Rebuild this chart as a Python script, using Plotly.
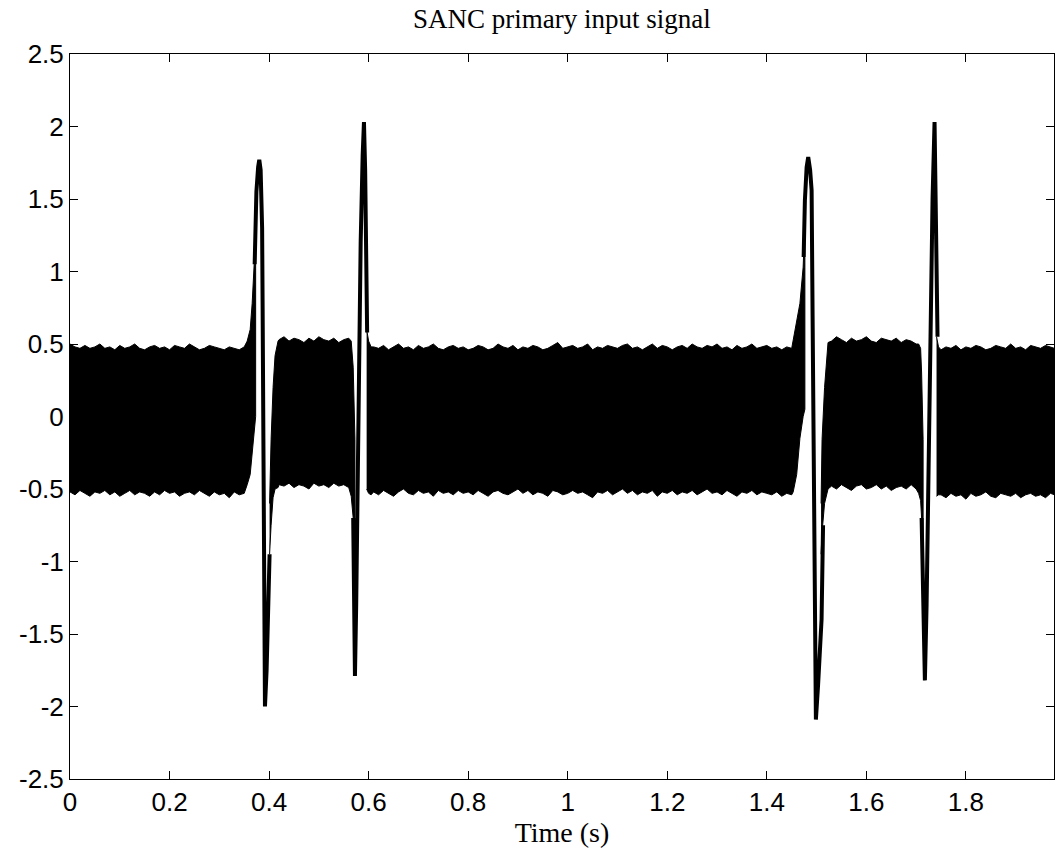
import plotly.graph_objects as go

# ---- envelope of the dense oscillation, per segment ----
tA = [0.00,0.01,0.02,0.03,0.04,0.05,0.06,0.07,0.08,0.09,0.10,0.11,0.12,0.13,0.14,0.15,0.16,0.17,
      0.18,0.19,0.20,0.21,0.22,0.23,0.24,0.25,0.26,0.27,0.28,0.29,0.30,0.31,0.32,0.33,0.34,0.35,
      0.356,0.362,0.366,0.370,0.373]
upA = [0.50,0.48,0.47,0.49,0.47,0.48,0.50,0.47,0.48,0.46,0.49,0.47,0.48,0.50,0.47,0.46,0.48,0.49,
       0.47,0.48,0.46,0.49,0.48,0.47,0.50,0.48,0.46,0.47,0.49,0.48,0.47,0.46,0.48,0.47,0.46,0.48,
       0.52,0.60,0.78,1.05,1.30]
loA = [-0.52,-0.54,-0.51,-0.53,-0.55,-0.52,-0.53,-0.51,-0.54,-0.52,-0.55,-0.53,-0.51,-0.54,-0.52,-0.53,-0.55,-0.52,
       -0.54,-0.51,-0.53,-0.52,-0.55,-0.53,-0.52,-0.54,-0.51,-0.53,-0.55,-0.52,-0.54,-0.53,-0.56,-0.52,-0.54,-0.53,
       -0.47,-0.40,-0.27,-0.10,0.00]

tB = [0.401,0.404,0.408,0.412,0.418,0.42,0.43,0.44,0.45,0.46,0.47,0.48,0.49,0.50,0.51,0.52,0.53,0.54,
      0.55,0.56,0.565,0.569,0.5725]
upB = [-0.60,-0.16,0.20,0.42,0.52,0.53,0.55,0.52,0.54,0.53,0.51,0.54,0.52,0.55,0.53,0.52,0.54,0.51,
       0.53,0.54,0.52,0.34,-0.16]
loB = [-0.95,-0.75,-0.56,-0.50,-0.49,-0.47,-0.48,-0.46,-0.49,-0.47,-0.48,-0.50,-0.46,-0.48,-0.47,-0.49,-0.46,-0.48,
       -0.47,-0.49,-0.55,-0.70,-0.90]

tC = [0.596,0.600,0.605,
      0.61,0.62,0.63,0.64,0.65,0.66,0.67,0.68,0.69,0.70,0.71,0.72,0.73,0.74,0.75,0.76,0.77,0.78,0.79,0.80,
      0.81,0.82,0.83,0.84,0.85,0.86,0.87,0.88,0.89,0.90,0.91,0.92,0.93,0.94,0.95,0.96,0.97,0.98,0.99,1.00,
      1.01,1.02,1.03,1.04,1.05,1.06,1.07,1.08,1.09,1.10,1.11,1.12,1.13,1.14,1.15,1.16,1.17,1.18,1.19,1.20,
      1.21,1.22,1.23,1.24,1.25,1.26,1.27,1.28,1.29,1.30,1.31,1.32,1.33,1.34,1.35,1.36,1.37,1.38,1.39,1.40,
      1.41,1.42,1.43,1.44,
      1.450,1.453,1.460,1.4665,1.473,1.4765]
upC = [0.60,0.52,0.48,
       0.48,0.47,0.49,0.46,0.48,0.50,0.47,0.48,0.46,0.49,0.47,0.48,0.50,0.47,0.46,0.48,0.49,0.47,0.48,0.46,
       0.47,0.49,0.48,0.46,0.47,0.50,0.48,0.47,0.49,0.46,0.48,0.47,0.49,0.48,0.46,0.47,0.49,0.51,0.47,0.48,
       0.49,0.47,0.48,0.50,0.46,0.48,0.47,0.49,0.48,0.47,0.49,0.50,0.47,0.48,0.46,0.48,0.50,0.47,0.49,0.48,
       0.46,0.48,0.49,0.47,0.50,0.48,0.47,0.49,0.48,0.50,0.47,0.48,0.46,0.49,0.47,0.48,0.50,0.47,0.48,0.49,
       0.47,0.48,0.46,0.48,
       0.47,0.53,0.65,0.78,1.03,1.35]
loC = [-0.50,-0.53,-0.54,
       -0.52,-0.54,-0.51,-0.53,-0.55,-0.52,-0.50,-0.53,-0.54,-0.51,-0.53,-0.52,-0.55,-0.51,-0.53,-0.52,-0.54,-0.51,-0.53,-0.52,
       -0.54,-0.51,-0.53,-0.55,-0.52,-0.51,-0.53,-0.54,-0.52,-0.50,-0.53,-0.51,-0.54,-0.52,-0.53,-0.55,-0.51,-0.52,-0.54,-0.53,
       -0.51,-0.53,-0.52,-0.54,-0.56,-0.52,-0.53,-0.51,-0.54,-0.52,-0.50,-0.53,-0.51,-0.54,-0.52,-0.53,-0.51,-0.55,-0.52,-0.53,
       -0.51,-0.54,-0.52,-0.53,-0.51,-0.54,-0.52,-0.50,-0.53,-0.52,-0.54,-0.51,-0.53,-0.55,-0.52,-0.53,-0.51,-0.54,-0.52,-0.53,
       -0.54,-0.52,-0.55,-0.53,
       -0.54,-0.52,-0.40,-0.15,0.00,0.05]

tD = [1.509,1.511,1.516,1.520,1.523,
      1.53,1.54,1.55,1.56,1.57,1.58,1.59,1.60,1.61,1.62,1.63,1.64,1.65,1.66,1.67,1.68,1.69,1.70,
      1.705,1.709,1.711,1.714]
upD = [-0.60,-0.16,0.20,0.42,0.51,
       0.52,0.55,0.53,0.51,0.54,0.52,0.53,0.55,0.52,0.51,0.54,0.53,0.52,0.54,0.51,0.53,0.52,0.50,
       0.50,0.47,0.30,-0.16]
loD = [-0.95,-0.80,-0.60,-0.54,-0.50,
       -0.48,-0.50,-0.47,-0.49,-0.51,-0.48,-0.47,-0.50,-0.49,-0.47,-0.50,-0.48,-0.51,-0.49,-0.48,-0.50,-0.47,-0.50,
       -0.53,-0.58,-0.70,-0.90]

tE = [1.741,1.745,
      1.75,1.76,1.77,1.78,1.79,1.80,1.81,1.82,1.83,1.84,1.85,1.86,1.87,1.88,1.89,1.90,1.91,1.92,1.93,1.94,1.95,1.96,1.97,
      1.978]
upE = [0.55,0.48,
       0.46,0.48,0.47,0.49,0.46,0.48,0.47,0.49,0.48,0.46,0.47,0.49,0.48,0.47,0.50,0.47,0.48,0.46,0.49,0.48,0.47,0.49,0.48,
       0.47]
loE = [-0.55,-0.54,
       -0.54,-0.56,-0.53,-0.55,-0.54,-0.57,-0.53,-0.55,-0.54,-0.52,-0.55,-0.56,-0.53,-0.54,-0.55,-0.53,-0.56,-0.54,-0.53,-0.55,-0.54,-0.56,-0.53,
       -0.54]

# ---- the four biphasic spikes ----
s1_t = [0.371,0.3745,0.378,0.3803,0.383,0.386,0.387,0.389,0.3917,0.395,0.398,0.401]
s1_v = [1.05,1.55,1.72,1.77,1.70,1.30,0.76,-0.40,-2.00,-1.75,-1.45,-0.95]
s2_t = [0.569,0.5725,0.575,0.578,0.581,0.584,0.588,0.5906,0.593,0.595,0.597]
s2_v = [-0.70,-1.79,-1.30,-0.30,0.50,1.20,1.80,2.03,1.70,1.00,0.58]
s3_t = [1.474,1.4765,1.480,1.4832,1.487,1.490,1.492,1.495,1.4986,1.503,1.507,1.510,1.513]
s3_v = [1.10,1.49,1.72,1.79,1.70,1.56,0.69,-0.80,-2.09,-1.85,-1.65,-1.40,-0.75]
s4_t = [1.711,1.7176,1.721,1.725,1.729,1.733,1.737,1.739,1.741,1.743]
s4_v = [-0.70,-1.82,-1.30,-0.20,0.80,1.50,2.03,1.60,0.90,0.55]

x_ticks = [0, 0.2, 0.4, 0.6, 0.8, 1, 1.2, 1.4, 1.6, 1.8]
x_labels = ["0", "0.2", "0.4", "0.6", "0.8", "1", "1.2", "1.4", "1.6", "1.8"]
y_ticks = [-2.5, -2, -1.5, -1, -0.5, 0, 0.5, 1, 1.5, 2, 2.5]
y_labels = ["-2.5", "-2", "-1.5", "-1", "-0.5", "0", "0.5", "1", "1.5", "2", "2.5"]

fig = go.Figure()
for t, up, lo in [(tA, upA, loA), (tB, upB, loB), (tC, upC, loC), (tD, upD, loD), (tE, upE, loE)]:
    fig.add_trace(go.Scatter(x=t + t[::-1], y=up + lo[::-1], mode="lines", fill="toself",
                             fillcolor="black", line=dict(color="black", width=1),
                             hoverinfo="skip", showlegend=False))
for st, sv in [(s1_t, s1_v), (s2_t, s2_v), (s3_t, s3_v), (s4_t, s4_v)]:
    fig.add_trace(go.Scatter(x=st, y=sv, mode="lines", line=dict(color="black", width=4),
                             showlegend=False))

axis_common = dict(showline=True, linecolor="black", linewidth=1, mirror="ticks",
                   ticks="inside", ticklen=8, tickcolor="black", showgrid=False, zeroline=False,
                   tickfont=dict(family="Liberation Sans, Arial, sans-serif", size=26, color="black"))
fig.update_xaxes(range=[0, 1.977], tickvals=x_ticks, ticktext=x_labels,
                 title=dict(text="Time (s)", font=dict(family="Liberation Serif, Times New Roman, serif",
                                                        size=28, color="black"), standoff=6),
                 **axis_common)
fig.update_yaxes(range=[-2.5, 2.5], tickvals=y_ticks, ticktext=y_labels, **axis_common)
fig.update_layout(
    width=1056, height=862,
    margin=dict(l=70, r=2, t=54, b=83),
    paper_bgcolor="white", plot_bgcolor="white",
    title=dict(text="SANC primary input signal", x=0.532, xanchor="center", y=0.99, yanchor="top",
               font=dict(family="Liberation Serif, Times New Roman, serif", size=27, color="black")),
)
fig.write_html("out.html")
